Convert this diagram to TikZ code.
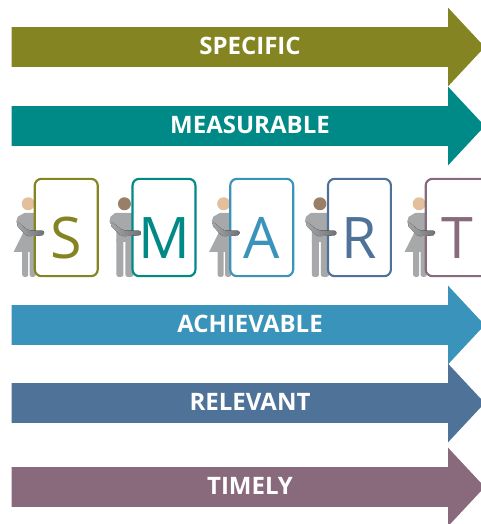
\documentclass[tikz,border=0pt]{standalone}
\usepackage{fontspec}
\setmainfont{Open Sans}
\usetikzlibrary{shapes.arrows,backgrounds}
\definecolor{olive}{HTML}{848522}
\definecolor{teal}{HTML}{008A87}
\definecolor{sky}{HTML}{3A93BA}
\definecolor{slate}{HTML}{4F7299}
\definecolor{mauve}{HTML}{896A7C}
\definecolor{body}{HTML}{A7A8AA}
\definecolor{handgray}{HTML}{707174}
\definecolor{skinlight}{HTML}{E3BF9C}
\definecolor{skindark}{HTML}{9A7F68}
\tikzset{
    woman/.pic={
        \fill[skinlight] (-5.5,26) circle (6.5);
        \fill[body] (-9,35) -- (4,35) -- (4,74) -- (-20,74) -- (-10.5,55) -- (-17.5,44) -- (-16,39) -- cycle;
        \fill[body,rounded corners=1.5] (-11.5,72) rectangle (-5.5,99);
        \fill[body,rounded corners=1.5] (-4,72) rectangle (2,99);
    },
    man/.pic={
        \fill[skindark] (-7,26) circle (6.5);
        \fill[body] (-16,35) -- (4,35) -- (4,64) -- (-15,64) -- (-15,52) -- (-22,44) -- (-21,39) -- cycle;
        \fill[body,rounded corners=1.5] (-15,60) rectangle (-8,99);
        \fill[body,rounded corners=1.5] (-6,60) rectangle (2,99);
    },
    womanhand/.pic={
        \fill[rounded corners=1.5,left color=body,right color=handgray] (-16,44) -- (-6,52.5) -- (10.5,53) -- (10.5,57.5) -- (-7,58.5) -- (-17.5,47) -- cycle;
    },
    manhand/.pic={
        \fill[rounded corners=1.5,left color=body,right color=handgray] (-20,44) -- (-9,52.5) -- (9.5,53) -- (9.5,57.5) -- (-10,58.5) -- (-21.5,47) -- cycle;
    },
}
\begin{document}
\begin{tikzpicture}[x=.75pt,y=-.75pt,node distance=73.3pt,
                    bar/.style={single arrow,draw=none,fill=#1,text=white,font=\bfseries\fontsize{18}{20}\selectfont,
                        minimum width=58.5pt,minimum height=354.75pt,inner xsep=0pt,inner ysep=7.45pt,
                        text height=12.85pt,text depth=1.5pt,execute at begin node=\hspace*{16.5pt},
                        single arrow head extend=14.625pt,single arrow tip angle=94,single arrow head indent=0pt},
                    card/.style={draw=#1,text=#1,fill=white,line width=1.6pt,rounded corners=5pt,inner sep=0pt,
                        minimum width=47.2pt,minimum height=73pt,text height=47.2pt,text depth=0pt,
                        font=\fontsize{43}{50}\selectfont}]
    \useasboundingbox (0,0) rectangle (481,524);

    % Arrows
    \node[bar=olive] (specific) at (239,47) {SPECIFIC};
    \node[bar=teal] (measurable) at (239,126) {MEASURABLE};
    \node[bar=sky] (achievable) at (239,325) {ACHIEVABLE};
    \node[bar=slate] (relevant) at (239,403) {RELEVANT};
    \node[bar=mauve] (timely) at (239,487) {TIMELY};

    % Cards
    \node[card=olive] (S) at (66.25,227.5) {S};
    \node[card=teal] (M) [right of=S] {M};
    \node[card=sky] (A) [right of=M] {A};
    \node[card=slate] (R) [right of=A] {R};
    \node[card=mauve] (T) [right of=R] {T};

    % People behind the cards
    \begin{scope}[on background layer]
        \pic at (S.north west) {woman};
        \pic at (M.north west) {man};
        \pic at (A.north west) {woman};
        \pic at (R.north west) {man};
        \pic at (T.north west) {woman};
    \end{scope}

    % Hands on the cards
    \foreach \n in {S,A,T}
        \pic at (\n.north west) {womanhand};
    \foreach \n in {M,R}
        \pic at (\n.north west) {manhand};
\end{tikzpicture}
\end{document}
